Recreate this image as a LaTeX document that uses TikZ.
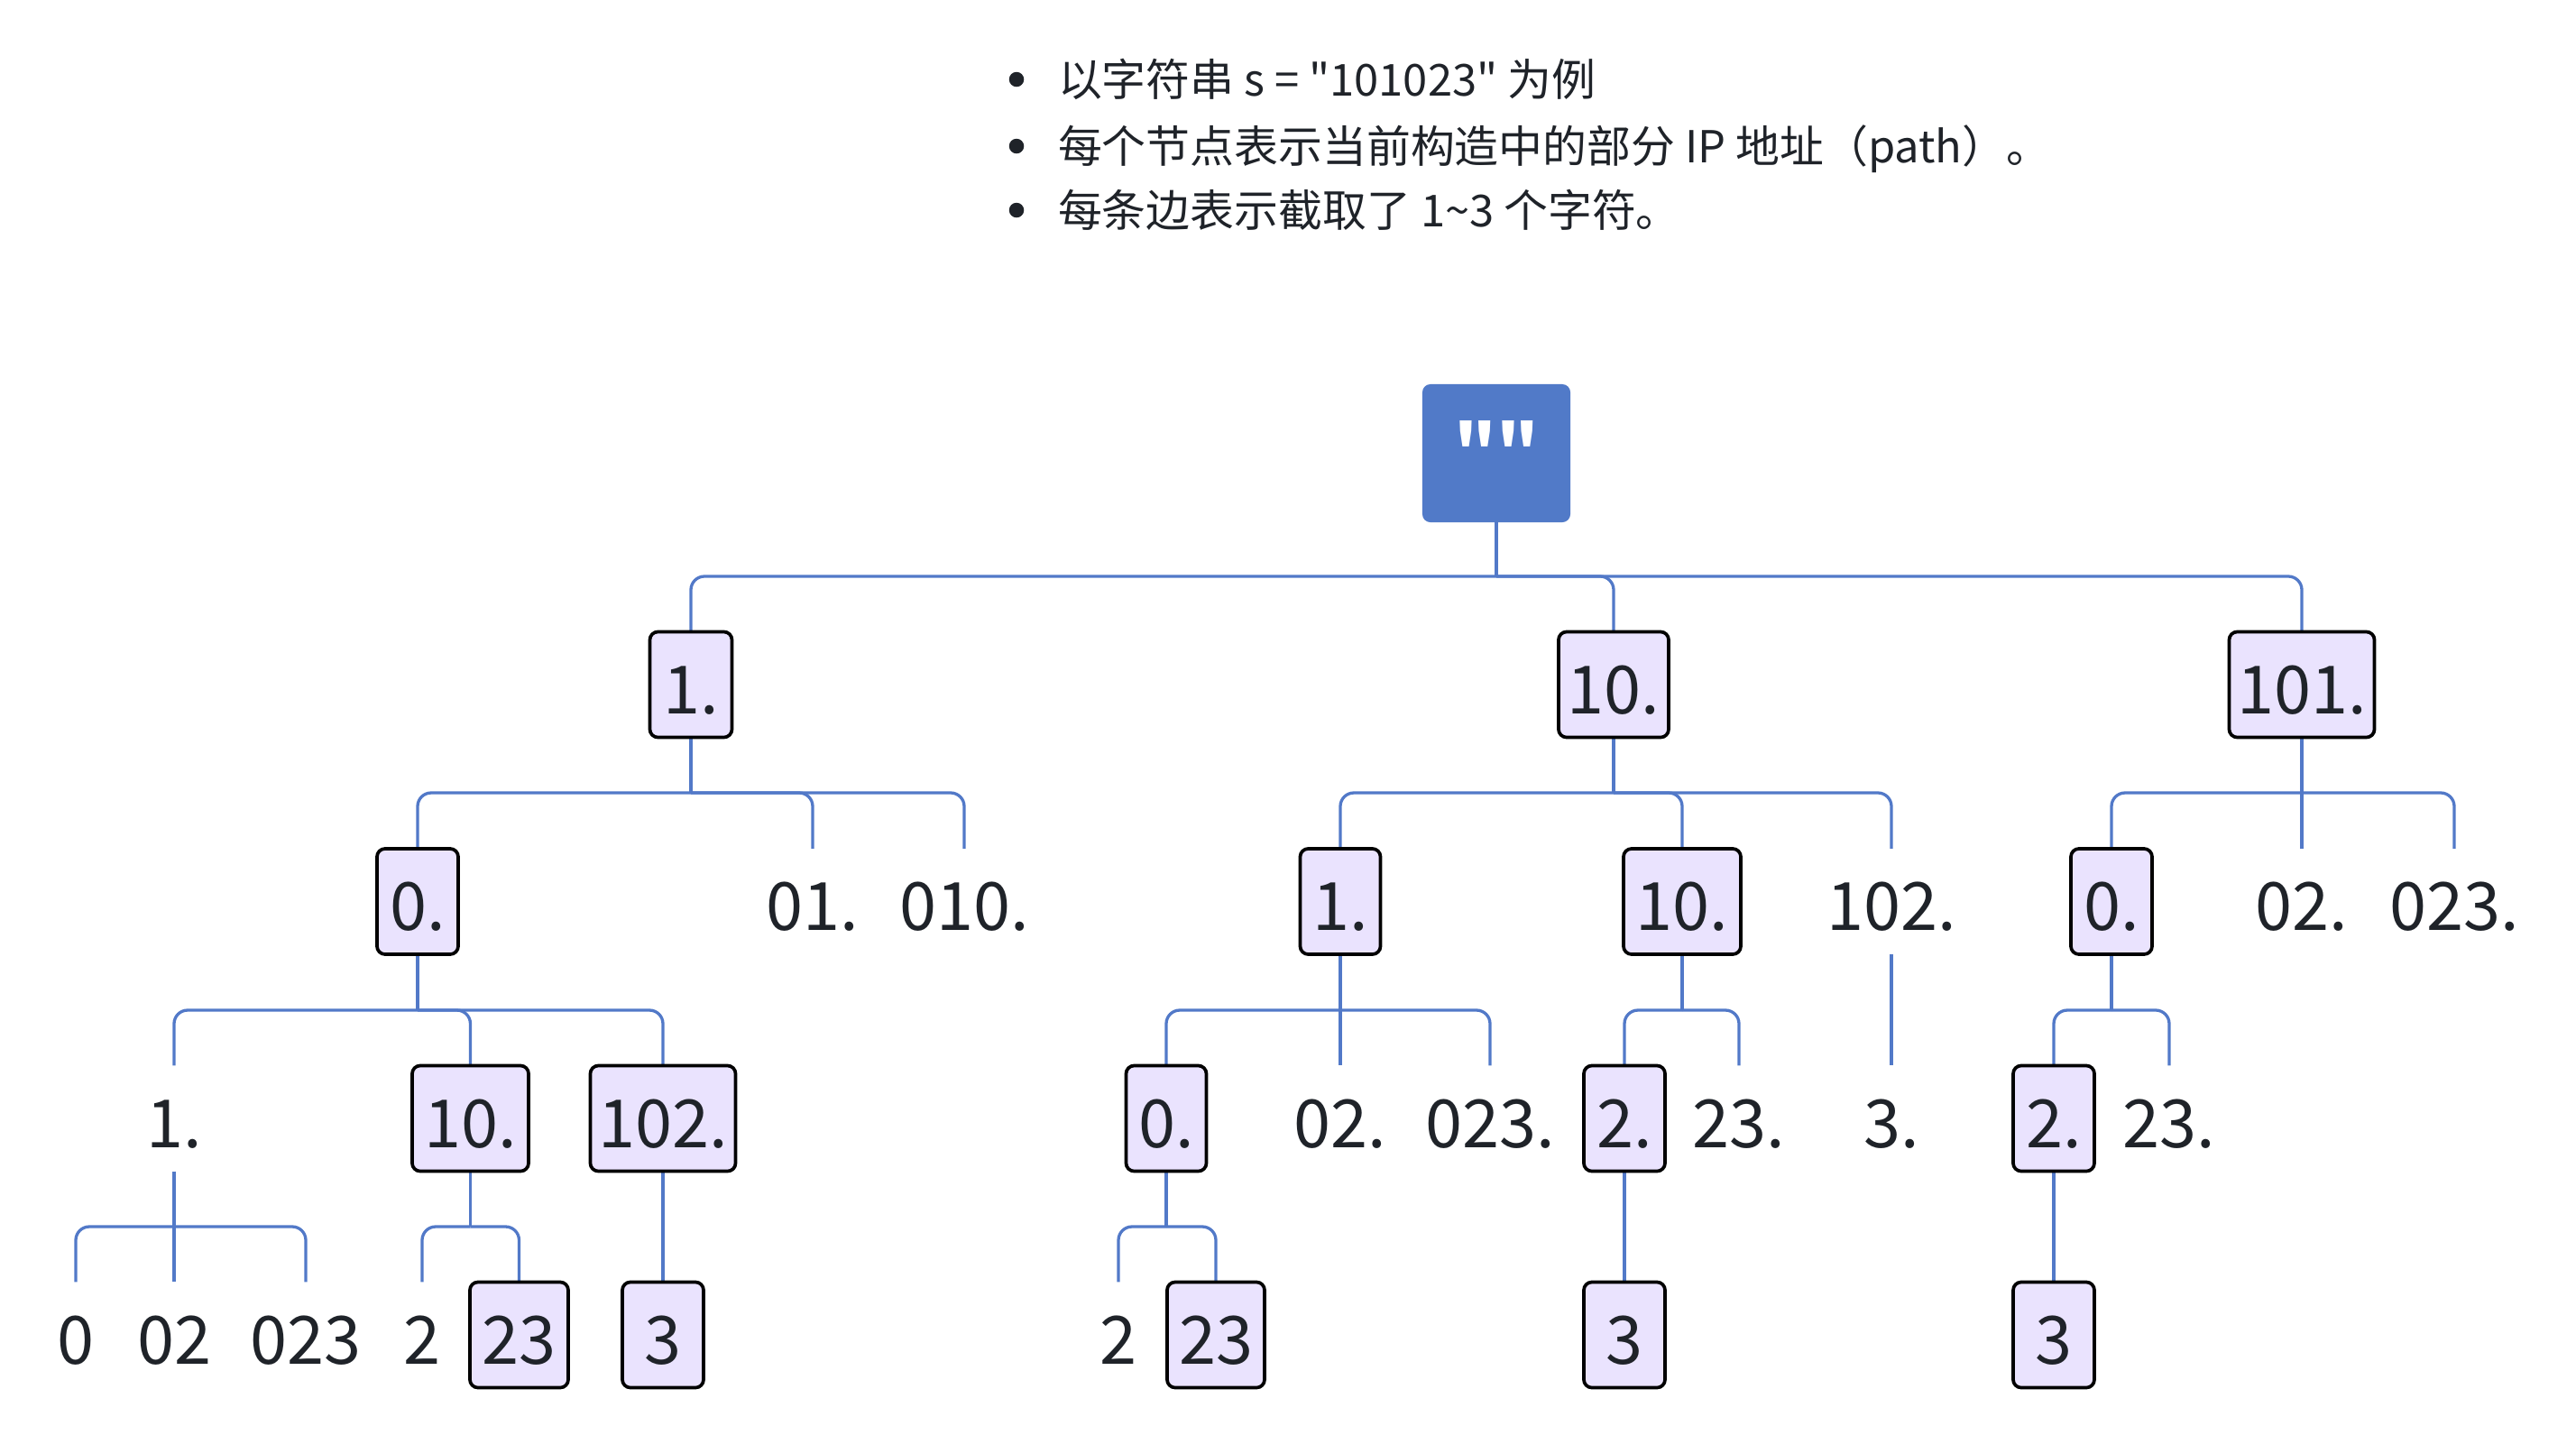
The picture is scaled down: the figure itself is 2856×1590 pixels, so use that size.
\documentclass[tikz,border=0pt]{standalone}
\usepackage{fontspec}
\setmainfont{Noto Sans CJK SC}[Ligatures=TeXOff]
\usetikzlibrary{backgrounds}
\definecolor{linec}{HTML}{5279C8}
\definecolor{rootc}{HTML}{517AC8}
\definecolor{boxc}{HTML}{EAE3FE}
\definecolor{txtc}{HTML}{1F2329}
\begin{document}
\begin{tikzpicture}[x=0.01cm,y=-0.01cm,
  every node/.style={inner sep=0pt, outer sep=0pt},
  tn/.style={font=\fontsize{21pt}{24pt}\selectfont, text=txtc, minimum height=1.17cm, text height=0.74cm, text depth=0.1cm, align=center},
  bx/.style={tn, draw=black, line width=0.037cm, fill=boxc, rounded corners=0.09cm},
  lb/.style={tn},
  conn/.style={draw=linec, line width=0.033cm, rounded corners=0.15cm},
  note/.style={font=\fontsize{13.9pt}{16pt}\selectfont, text=txtc, anchor=base west},
  dotc/.style={circle, fill=txtc, minimum size=0.165cm}
]
\useasboundingbox (0,0) rectangle (2856,1590);

% notes
\node[dotc] (d1) at (1127,88) {};
\node[note] (t1) at (1173,106) {以字符串 s = "101023" 为例};
\node[dotc] (d2) at (1127,162) {};
\node[note] (t2) at (1173,180) {每个节点表示当前构造中的部分 IP 地址（path）。};
\node[dotc] (d3) at (1127,233) {};
\node[note] (t3) at (1173,251) {每条边表示截取了 1\textasciitilde 3 个字符。};

% root
\node[fill=rootc, rounded corners=0.09cm, minimum width=1.64cm, minimum height=1.53cm, text=white, font=\bfseries\fontsize{21pt}{24pt}\selectfont, text height=0.64cm, text depth=0.2cm] (r) at (1659,502.5) {""};

% level 1
\node[bx, minimum width=0.91cm] (a) at (766,759) {1.};
\node[bx, minimum width=1.22cm] (b) at (1789,759) {10.};
\node[bx, minimum width=1.61cm] (c) at (2552,759) {101.};

% level 2
\node[bx, minimum width=0.90cm] (aa) at (463,999.5) {0.};
\node[lb] (ab) at (901,999.5) {01.};
\node[lb] (ac) at (1069,999.5) {010.};
\node[bx, minimum width=0.89cm] (ba) at (1486,999.5) {1.};
\node[bx, minimum width=1.30cm] (bb) at (1865,999.5) {10.};
\node[lb] (bc) at (2097,999.5) {102.};
\node[bx, minimum width=0.90cm] (ca) at (2341,999.5) {0.};
\node[lb] (cb) at (2552,999.5) {02.};
\node[lb] (cc) at (2721,999.5) {023.};

% level 3
\node[lb] (aaa) at (193,1240) {1.};
\node[bx, minimum width=1.29cm] (aab) at (521.5,1240) {10.};
\node[bx, minimum width=1.61cm] (aac) at (735,1240) {102.};
\node[bx, minimum width=0.89cm] (baa) at (1293,1240) {0.};
\node[lb] (bab) at (1486,1240) {02.};
\node[lb] (bac) at (1652,1240) {023.};
\node[bx, minimum width=0.90cm] (bba) at (1801,1240) {2.};
\node[lb] (bbb) at (1928,1240) {23.};
\node[lb] (bca) at (2097,1240) {3.};
\node[bx, minimum width=0.90cm] (caa) at (2277,1240) {2.};
\node[lb] (cab) at (2405,1240) {23.};

% level 4
\node[lb] (aaaa) at (84,1480) {0};
\node[lb] (aaab) at (193,1480) {02};
\node[lb] (aaac) at (339,1480) {023};
\node[lb] (aaba) at (468,1480) {2};
\node[bx, minimum width=1.09cm] (aabb) at (575.5,1480) {23};
\node[bx, minimum width=0.90cm] (aaca) at (735,1480) {3};
\node[lb] (baaa) at (1240,1480) {2};
\node[bx, minimum width=1.08cm] (baab) at (1348,1480) {23};
\node[bx, minimum width=0.90cm] (bbaa) at (1801,1480) {3};
\node[bx, minimum width=0.90cm] (caaa) at (2277,1480) {3};

% junctions
\coordinate (rj) at (1659,639);
\coordinate (aj) at (766,879);
\coordinate (bj) at (1789,879);
\coordinate (cj) at (2552,879);
\coordinate (aaj) at (463,1120);
\coordinate (baj) at (1486,1120);
\coordinate (bbj) at (1865,1120);
\coordinate (caj) at (2341,1120);
\coordinate (aaaj) at (193,1360);
\coordinate (aabj) at (521.5,1360);
\coordinate (baaj) at (1293,1360);

\begin{scope}[on background layer]
% root
\draw[conn] (r.south) -- (rj);
\draw[conn] (rj) -| (a.north);
\draw[conn] (rj) -| (b.north);
\draw[conn] (rj) -| (c.north);
% a
\draw[conn] (a.south) -- (aj);
\draw[conn] (aj) -| (aa.north);
\draw[conn] (aj) -| (ab.north);
\draw[conn] (aj) -| (ac.north);
% b
\draw[conn] (b.south) -- (bj);
\draw[conn] (bj) -| (ba.north);
\draw[conn] (bj) -| (bb.north);
\draw[conn] (bj) -| (bc.north);
% c
\draw[conn] (c.south) -- (cj);
\draw[conn] (cj) -| (ca.north);
\draw[conn] (cj) -- (cb.north);
\draw[conn] (cj) -| (cc.north);
% aa
\draw[conn] (aa.south) -- (aaj);
\draw[conn] (aaj) -| (aaa.north);
\draw[conn] (aaj) -| (aab.north);
\draw[conn] (aaj) -| (aac.north);
% ba
\draw[conn] (ba.south) -- (baj);
\draw[conn] (baj) -| (baa.north);
\draw[conn] (baj) -- (bab.north);
\draw[conn] (baj) -| (bac.north);
% bb
\draw[conn] (bb.south) -- (bbj);
\draw[conn] (bbj) -| (bba.north);
\draw[conn] (bbj) -| (bbb.north);
% bc
\draw[conn] (bc.south) -- (bca.north);
% ca
\draw[conn] (ca.south) -- (caj);
\draw[conn] (caj) -| (caa.north);
\draw[conn] (caj) -| (cab.north);
% aaa
\draw[conn] (aaa.south) -- (aaaj);
\draw[conn] (aaaj) -| (aaaa.north);
\draw[conn] (aaaj) -- (aaab.north);
\draw[conn] (aaaj) -| (aaac.north);
% aab
\draw[conn] (aab.south) -- (aabj);
\draw[conn] (aabj) -| (aaba.north);
\draw[conn] (aabj) -| (aabb.north);
% aac
\draw[conn] (aac.south) -- (aaca.north);
% baa
\draw[conn] (baa.south) -- (baaj);
\draw[conn] (baaj) -| (baaa.north);
\draw[conn] (baaj) -| (baab.north);
% bba, caa
\draw[conn] (bba.south) -- (bbaa.north);
\draw[conn] (caa.south) -- (caaa.north);
\end{scope}
\end{tikzpicture}
\end{document}
